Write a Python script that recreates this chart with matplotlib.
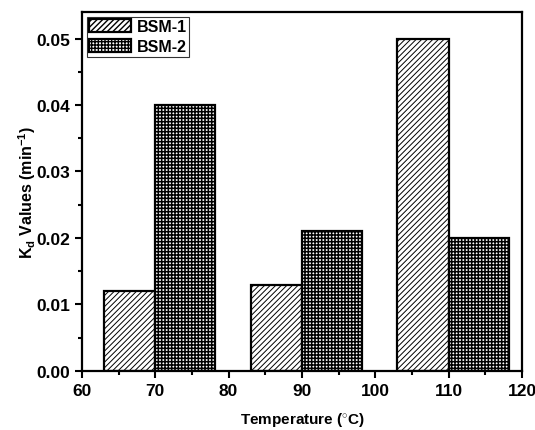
import matplotlib
matplotlib.use("Agg")
import matplotlib.pyplot as plt
from matplotlib.ticker import MultipleLocator

temps = [70, 90, 110]
bsm1 = [0.012, 0.013, 0.050]
bsm2 = [0.040, 0.021, 0.020]
labels = ["BSM-1", "BSM-2"]

plt.rcParams['font.family'] = ['Liberation Sans', 'DejaVu Sans']
plt.rcParams['font.weight'] = 'bold'
plt.rcParams['mathtext.fontset'] = 'custom'
plt.rcParams['mathtext.rm'] = 'Liberation Sans:bold'
plt.rcParams['mathtext.it'] = 'Liberation Sans:bold'
plt.rcParams['mathtext.bf'] = 'Liberation Sans:bold'

fig = plt.figure(figsize=(5.35, 4.31), dpi=100)
ax = fig.add_axes([0.153, 0.137, 0.823, 0.833])

with plt.rc_context({'hatch.linewidth': 0.7}):
    ax.bar([t - 7 for t in temps], bsm1, width=7, align='edge', color='white',
           edgecolor='black', linewidth=1.6, hatch='//////', label=labels[0])
with plt.rc_context({'hatch.linewidth': 1.1}):
    ax.bar(temps, bsm2, width=8.2, align='edge', color='white',
           edgecolor='black', linewidth=1.6, hatch='+++++', label=labels[1])

ax.set_xlim(60, 120)
ax.set_ylim(0, 0.054)
ax.xaxis.set_major_locator(MultipleLocator(10))
ax.xaxis.set_minor_locator(MultipleLocator(5))
ax.yaxis.set_major_locator(MultipleLocator(0.01))
ax.yaxis.set_minor_locator(MultipleLocator(0.005))
ax.yaxis.set_major_formatter(matplotlib.ticker.FormatStrFormatter('%.2f'))
ax.tick_params(which='major', direction='out', length=5, width=1.5, labelsize=12.5)
ax.tick_params(which='minor', direction='out', length=3, width=1.5)
for s in ax.spines.values():
    s.set_linewidth(1.6)

ax.set_xlabel("Temperature ($^{\\circ}$C)", fontsize=11, fontweight='bold', labelpad=9)
ax.set_ylabel("K$_{d}$ Values (min$^{-1}$)", fontsize=11.5, fontweight='bold', labelpad=-1)

leg = ax.legend(loc='upper left', fontsize=11.5, frameon=True, fancybox=False,
                edgecolor='black', handlelength=2.6, handleheight=0.9,
                borderpad=0.15, labelspacing=0.3, handletextpad=0.4,
                borderaxespad=0.3)
leg.get_frame().set_linewidth(0.8)

fig.savefig("out.png", dpi=100)
